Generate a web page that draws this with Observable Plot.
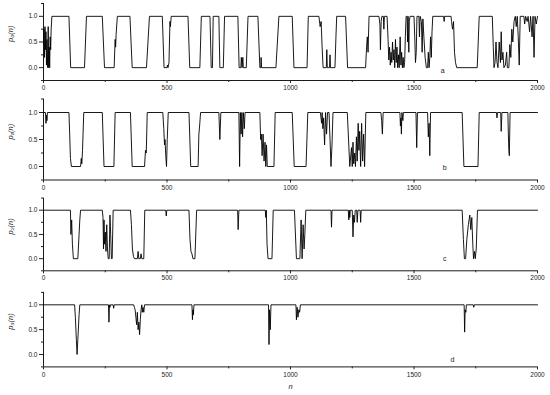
<!DOCTYPE html>
<html>
<head>
<meta charset="utf-8">
<script src="https://cdn.jsdelivr.net/npm/d3@7"></script>
<script src="https://cdn.jsdelivr.net/npm/@observablehq/plot@0.6"></script>
<style>
  html, body { margin: 0; padding: 0; background: #fff; }
  #chart { width: 550px; height: 395px; position: relative; }
  #chart svg { display: block; }
</style>
</head>
<body>
<div id="chart"></div>
<script>
// ---- data (vertices) ----
const xTicks = [0, 500, 1000, 1500, 2000];
const xMinor = [250, 750, 1250, 1750];
const yTicks = [0, 0.5, 1];
const yMinor = [-0.25, 0.25, 0.75, 1.25];
const panelLetters = ["a", "b", "c", "d"];
const yLabels = ["p\u2080(n)", "p\u2081(n)", "p\u2082(n)", "p\u2083(n)"];

const p0 = [[0,0.45],[2,0.75],[4,0.2],[6,0.8],[8,0.35],[10,0.7],[12,0.05],[14,0.55],[17,0],[19,0.8],[21,0],[23,0.4],[25,0],[27,0.6],[29,0.35],[31,0.75],[34,1],
[103,1],[110,0],[166,0],[174,1],[238,1],[247,0],[286,0],[290,0.55],[292,0.4],[294,0.65],[299,1],[350,1],[359,0],[417,0],[429,1],[481,1],[488,0],[500,0],[502,0.05],[504,0],[508,0.1],[512,0.9],[514,0.8],[517,1],[585,1],[592,0],[633,0],[639,1],[674,1],[679,0],[684,0],[687,1],[710,1],[714,0],[728,0],[733,1],[787,1],[792,0],[799,0],[801,0.2],[804,0],[807,0.2],[809,0],[821,0],[828,1],[868,1],[876,0],[880,0],[881,0.2],[883,0],[941,0],[947,0.5],[953,1],
[1007,1],[1014,0],[1067,0],[1072,1],[1115,1],[1120,0.8],[1124,0.9],[1128,0.4],[1132,0],[1145,0],[1147,0.35],[1149,0],[1158,0],[1160,0.25],[1162,0],[1180,0],[1184,0.6],[1187,1],[1223,1],[1231,0],[1304,0],[1308,0.4],[1311,0.6],[1314,0.3],[1318,1],
[1358,1],[1362,0.85],[1364,0.35],[1367,0.9],[1370,1],[1376,1],[1378,0.75],[1380,1],[1391,1],[1395,0.55],[1398,0.15],[1401,0.4],[1404,0.05],[1407,0.3],[1410,0.1],[1413,0.5],[1416,0.15],[1419,0.35],[1422,0],[1425,0.55],[1428,0.1],[1431,0.4],[1434,0],[1437,0.25],[1440,0],[1444,0.6],[1447,0.05],[1450,0.3],[1453,0],[1456,0.2],[1459,0],[1462,0.1],[1465,0.6],[1468,1],[1472,1],[1474,0.5],[1476,1],[1479,0.3],[1481,0.9],[1484,1],[1500,1],[1503,0.6],[1506,0.1],[1509,0.3],[1512,1],[1520,1],[1522,0.6],[1525,1],[1530,0.9],[1533,0.3],[1536,0.95],[1540,0.6],[1545,0.2],[1550,0],[1555,0],[1558,0.3],[1561,0],[1564,0.2],[1567,0.6],[1570,0.2],[1573,0.7],[1576,1],
[1620,1],[1622,0.9],[1624,1],[1650,1],[1652,0.9],[1656,0.75],[1660,0.9],[1664,0.3],[1668,0.1],[1673,0],[1756,0],[1764,1],[1817,1],[1821,0.4],[1824,0],[1828,0.1],[1832,0.5],[1836,0.1],[1840,0],[1845,0.5],[1850,0.1],[1853,0.7],[1856,0.15],[1860,0.3],[1864,0],[1870,0.05],[1875,0.3],[1878,0],[1884,0],[1888,0.45],[1892,0.2],[1896,0.75],[1900,0.5],[1905,0.9],[1910,1],[1914,0.8],[1918,1],[1922,0.6],[1926,0.05],[1930,1],[1945,1],[1948,0.85],[1952,1],[1958,0.9],[1962,1],[1968,0.7],[1972,1],[1978,0.6],[1982,1],[1986,0.2],[1990,1],[1995,0.85],[2000,1]];

const p1 = [[0,1],[8,1],[10,0.8],[12,0.95],[14,0.85],[16,1],[103,1],[106,0.6],[109,0.15],[113,0],[150,0],[153,0.15],[155,0.05],[158,0.3],[163,1],[238,1],[245,0],[285,0],[290,1],[352,1],[359,0],[409,0],[413,0.3],[416,0.25],[420,1],[483,1],[487,0.7],[490,0.4],[492,0.5],[495,0.2],[498,0],[501,0.5],[505,1],[589,1],[596,0],[626,0],[629,0.6],[632,0.75],[636,1],[710,1],[714,0.5],[718,1],[791,1],[794,0],[797,1],[800,0.6],[803,1],[806,0.55],[809,1],[813,0.7],[816,1],[876,1],[879,0.5],[882,0.6],[885,0.2],[889,0.6],[893,0.1],[897,0.45],[900,0],[903,0.4],[906,0],[933,0],[938,1],
[1007,1],[1015,0],[1063,0],[1070,1],[1121,1],[1126,0.8],[1128,1],[1131,0.7],[1134,0.9],[1138,0.4],[1142,1],[1146,0.6],[1150,1],[1156,1],[1160,0.5],[1164,0],[1168,0.4],[1172,1],[1230,1],[1240,0],[1247,0.35],[1250,0],[1253,0.45],[1256,0.05],[1260,0.25],[1263,0],[1267,0.55],[1270,0.1],[1274,0.8],[1277,0.3],[1280,0.65],[1284,0],[1288,0.8],[1292,0.1],[1296,0.6],[1300,0],[1305,1],
[1366,1],[1369,0.85],[1372,0.6],[1375,1],[1443,1],[1445,0.75],[1447,0.9],[1449,0.6],[1451,1],[1455,0.85],[1457,1],[1508,1],[1511,0.35],[1514,1],[1555,1],[1558,0.55],[1561,0.8],[1564,0.2],[1567,1],[1695,1],[1702,0],[1759,0],[1764,1],[1834,1],[1836,0.9],[1838,1],[1851,1],[1853,0.65],[1856,1],[1880,1],[1882,0.6],[1884,0.3],[1886,0.2],[1889,1],[2000,1]];

const p2 = [[0,1],[109,1],[111,0.5],[114,0.8],[117,0.3],[121,0],[139,0],[144,0.5],[147,0.8],[150,1],[238,1],[241,0.85],[243,0.2],[245,0.8],[247,0.3],[250,0.55],[253,0.15],[256,0.7],[259,0.2],[262,0],[266,0],[269,0.9],[272,0.5],[275,0],[278,0],[282,1],[352,1],[356,0.7],[360,0.2],[364,0.05],[368,0],[380,0],[383,0.15],[386,0],[392,0],[395,0.1],[398,0],[406,0],[410,1],[495,1],[497,0.88],[499,1],[589,1],[593,0.4],[597,0.15],[601,0.1],[605,0],[613,0],[620,1],[786,1],[788,0.6],[791,1],[898,1],[900,0.85],[902,1],[905,0.3],[909,0],[925,0],[930,1],
[1016,1],[1024,0],[1038,0],[1043,0.8],[1047,0],[1051,0.7],[1055,0.2],[1058,0.5],[1062,1],[1164,1],[1166,0.65],[1168,1],[1234,1],[1236,0.8],[1238,1],[1240,0.85],[1242,1],[1250,1],[1253,0.45],[1256,0.9],[1259,0.75],[1262,1],[1268,1],[1270,0.75],[1273,1],[1282,1],[1284,0.75],[1286,1],
[1695,1],[1700,0.4],[1704,0],[1709,0],[1714,0.4],[1720,0.7],[1726,0.9],[1730,0.6],[1734,0.85],[1738,0.3],[1741,0],[1745,0.15],[1748,0],[1752,0.2],[1757,1],[2000,1]];

const p3 = [[0,1],[126,1],[129,0.75],[133,0.3],[136,0],[140,0.4],[144,0.8],[147,1],[263,1],[265,0.65],[267,1],[269,0.95],[271,1],[282,1],[284,0.93],[286,1],[365,1],[368,0.95],[371,0.9],[374,0.75],[377,0.6],[380,0.85],[383,0.5],[386,0.65],[389,0.4],[392,0.7],[395,0.9],[398,1],[400,0.85],[403,0.95],[406,0.85],[409,1],[601,1],[603,0.7],[605,0.9],[607,0.8],[609,1],[911,1],[913,0.2],[915,0.9],[918,0.5],[921,1],[1022,1],[1024,0.7],[1027,0.95],[1030,0.75],[1034,0.9],[1037,0.85],[1040,1],[1703,1],[1705,0.45],[1707,0.9],[1710,0.85],[1712,1],[1740,1],[1742,0.95],[1744,1],[2000,1]];

const series = [p0, p1, p2, p3];
const letterPos = [[1616, -0.06], [1624, -0.02], [1624, 0.0], [1656, -0.1]];

// ---- layout ----
const layout = [
  {height: 95,  mt: 3,   mb: 15},
  {height: 100, mt: 3.5, mb: 15.5},
  {height: 95,  mt: 2.6, mb: 19.7},
  {height: 105, mt: 1.9, mb: 28.6}
];

const root = document.getElementById("chart");
series.forEach((s, i) => {
  const L = layout[i];
  const data = s.map(([n, p]) => ({n, p}));
  const marks = [
    Plot.ruleY([-0.25], {stroke: "#000", strokeWidth: 0.9}),
    Plot.ruleX([0], {stroke: "#000", strokeWidth: 0.9}),
    Plot.axisX({ticks: xTicks, tickSize: 3, tickPadding: 2, tickFormat: d => String(d), label: null, fontSize: 6.5}),
    Plot.axisX({ticks: xMinor, tickSize: 2, tickFormat: () => "", label: null}),
    Plot.axisY({ticks: yTicks, tickSize: 4, tickPadding: 2, tickFormat: d3.format(".1f"), label: null, fontSize: 6.5}),
    Plot.axisY({ticks: yMinor, tickSize: 2, tickFormat: () => "", label: null}),
    Plot.line(data, {x: "n", y: "p", stroke: "#000", strokeWidth: 0.9}),
    Plot.text([yLabels[i]], {frameAnchor: "left", dx: -33, rotate: -90, fontSize: 7.5, fontStyle: "italic"}),
    Plot.text([letterPos[i]], {x: d => d[0], y: d => d[1], text: () => panelLetters[i], fontSize: 7})
  ];
  if (i === 3) {
    marks.push(Plot.text(["n"], {frameAnchor: "bottom", dy: 22, fontSize: 7.5, fontStyle: "italic"}));
  }
  const svg = Plot.plot({
    width: 550,
    height: L.height,
    marginLeft: 43,
    marginRight: 13,
    marginTop: L.mt,
    marginBottom: L.mb,
    style: {fontFamily: "'Liberation Sans', Arial, sans-serif", color: "#222", background: "#fff"},
    x: {domain: [0, 2000], axis: null},
    y: {domain: [-0.25, 1.25], axis: null},
    marks
  });
  root.appendChild(svg);
});
</script>
</body>
</html>
